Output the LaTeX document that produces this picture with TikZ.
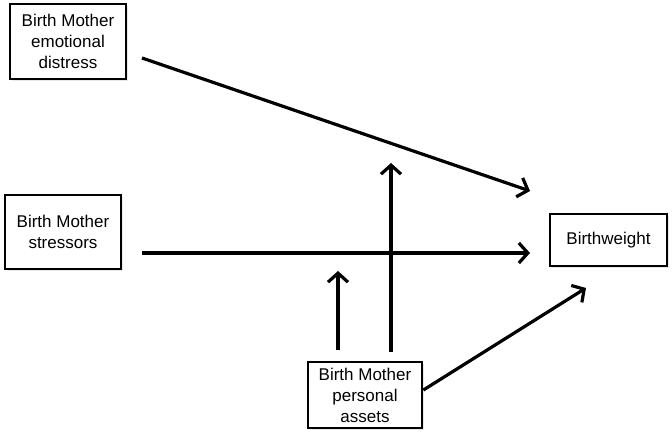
\documentclass[tikz,border=0pt]{standalone}
\usepackage{fontspec}
\setmainfont{Liberation Sans}
\usetikzlibrary{arrows.meta,positioning,shadows}

\begin{document}
\begin{tikzpicture}[
  x=1pt,y=-1pt,
  >={Straight Barb[length=9pt,width=20pt]},
  font=\fontsize{17}{21}\selectfont,
  box/.style={draw=black, line width=2.8pt, fill=white, align=center, inner sep=2pt,
              drop shadow={opacity=0.18, shadow xshift=1.5pt, shadow yshift=-2pt}},
  link/.style={->, line width=3.2pt},
]
\useasboundingbox (0,0) rectangle (672,438);

% ---------------- boxes ----------------
\node[box, minimum width=116pt, minimum height=75pt] (dist) at (68,41.5)
{Birth Mother\\ emotional\\ distress};
\node[box, minimum width=116pt, minimum height=74pt] (stress) at (63,232)
{Birth Mother\\ stressors};
\node[box, minimum width=114pt, minimum height=66pt] (assets) at (365,395)
{Birth Mother\\ personal\\ assets};
\node[box, minimum width=117pt, minimum height=52pt] (bw) at (608.5,240)
{Birthweight};

% ---------------- free ends ----------------
\coordinate (distout) at (142,58);
\coordinate (distin)  at (530,191);
\coordinate (stressout) at (142,253);
\coordinate (stressin)  at (530,253);
\coordinate (modhigh) at (391,163);
\coordinate (modlow)  at (338,271);
\coordinate (assetsin) at (586,288);

% ---------------- paths ----------------
\draw[link] (distout) -- (distin);
\draw[link] (stressout) -- (stressin);
\draw[link] ([yshift=9pt]assets.north -| modhigh) -- (modhigh);
\draw[link] ([yshift=11pt]assets.north -| modlow) -- (modlow);
\draw[link] ([yshift=5pt]assets.east) -- (assetsin);

\end{tikzpicture}
\end{document}
